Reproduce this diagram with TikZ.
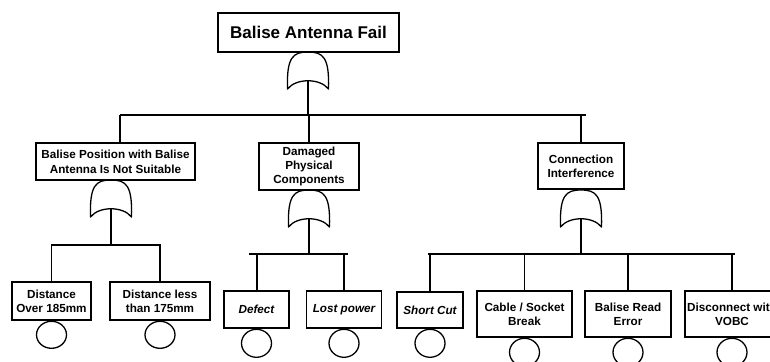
\documentclass[tikz,border=0pt]{standalone}
\usepackage{fontspec}
\setmainfont{Liberation Sans}
\usetikzlibrary{shapes.geometric}

\tikzset{
  wire/.style={line width=1.3pt},
  event/.style={draw, line width=1.3pt, rectangle, inner sep=0pt, align=center,
    font=\fontsize{11.7}{13.7}\selectfont\bfseries},
  leafit/.style={event, font=\fontsize{11.7}{13.7}\selectfont\bfseries\itshape},
  basic/.style={draw, line width=1.3pt, ellipse, minimum width=30pt,
    minimum height=28pt, inner sep=0pt, anchor=north},
  orgate/.pic={
    \draw[line width=1.3pt, line join=round]
      (-20.5,37) .. controls (-21.5,5) and (-15,0) .. (0,0)
      .. controls (15,0) and (21.5,5) .. (20.5,37)
      .. controls (12,26) and (-12,26) .. cycle;
    \coordinate (-top) at (0,0);
    \coordinate (-in) at (0,28.5);
  }
}

\begin{document}
\begin{tikzpicture}[x=1pt, y=-1pt]
  \useasboundingbox (0,0) rectangle (770,361);
  \fill[white] (0,0) rectangle (770,361);
  \clip (0,0) rectangle (770,361);

  % top event
  \node[event, minimum width=181pt, minimum height=39pt,
        font=\fontsize{17}{20}\selectfont\bfseries] (top) at (308.5,32.5) {Balise Antenna Fail};
  \pic (g0) at (308,52) {orgate};

  % intermediate events
  \node[event, minimum width=159pt, minimum height=37pt] (pos) at (115.5,161.5)
    {Balise Position with Balise\\[1.3pt]Antenna Is Not Suitable};
  \node[event, minimum width=100pt, minimum height=47pt] (dmg) at (309,166.5)
    {Damaged\\Physical\\Components};
  \node[event, minimum width=86pt, minimum height=46pt] (con) at (581,166)
    {Connection\\Interference};

  \pic (g1) at (111,180) {orgate};
  \pic (g2) at (309,190) {orgate};
  \pic (g3) at (581,190) {orgate};

  % first-level bar
  \coordinate (b0l) at (120,115);
  \coordinate (b0r) at (586,115);
  \draw[wire] (b0l) -- (b0r);
  \draw[wire] (g0-in) -- (g0-in |- b0l);
  \draw[wire] (b0l) -- (b0l |- pos.north);
  \draw[wire] (dmg.north) -- (dmg.north |- b0l);
  \draw[wire] (con.north) -- (con.north |- b0l);

  % basic events: position branch
  \node[event, minimum width=79pt, minimum height=38pt] (d185) at (51.5,301)
    {Distance\\Over 185mm};
  \node[event, minimum width=100pt, minimum height=38pt] (d175) at (160,301)
    {Distance less\\than 175mm};
  \node[basic, minimum height=27pt] (c185) at (d185.south) {};
  \node[basic, minimum height=27pt] (c175) at (d175.south) {};

  \coordinate (b1l) at (51,245);
  \coordinate (b1r) at (161,245);
  \draw[wire] (b1l) -- (b1r);
  \draw[wire] (g1-in) -- (g1-in |- b1l);
  \draw[wire] (d185.north) -- (d185.north |- b1l);
  \draw[wire] (d175.north) -- (d175.north |- b1l);

  % basic events: damage branch
  \node[leafit, minimum width=65pt, minimum height=37pt] (dft) at (256.5,309.5) {Defect};
  \node[leafit, minimum width=75pt, minimum height=37pt] (lpw) at (344,309.5) {Lost power};
  \node[basic] (cdft) at (dft.south) {};
  \node[basic] (clpw) at (lpw.south) {};

  \coordinate (b2l) at (249,254);
  \coordinate (b2r) at (348,254);
  \draw[wire] (b2l) -- (b2r);
  \draw[wire] (g2-in) -- (g2-in |- b2l);
  \draw[line width=2pt] (dft.north) -- (dft.north |- b2l);
  \draw[wire] (lpw.north) -- (lpw.north |- b2l);

  % basic events: connection branch
  \node[leafit, minimum width=66pt, minimum height=36pt] (sct) at (430,310) {Short Cut};
  \node[event, minimum width=95pt, minimum height=46pt] (cab) at (524.5,314)
    {Cable / Socket\\Break};
  \node[event, minimum width=86pt, minimum height=46pt] (brd) at (628,314)
    {Balise Read\\Error};
  \node[event, minimum width=94pt, minimum height=46pt] (dsc) at (732,314)
    {Disconnect with\\VOBC};
  \node[basic] (csct) at (sct.south) {};
  \node[basic] (ccab) at (cab.south) {};
  \node[basic] (cbrd) at (brd.south) {};
  \node[basic] (cdsc) at (dsc.south) {};

  \coordinate (b3l) at (428,254);
  \coordinate (b3r) at (735,254);
  \draw[wire] (b3l) -- (b3r);
  \draw[wire] (g3-in) -- (g3-in |- b3l);
  \draw[wire] (sct.north) -- (sct.north |- b3l);
  \draw[wire] (cab.north) -- (cab.north |- b3l);
  \draw[wire] (brd.north) -- (brd.north |- b3l);
  \draw[wire] (dsc.north) -- (dsc.north |- b3l);
\end{tikzpicture}
\end{document}
